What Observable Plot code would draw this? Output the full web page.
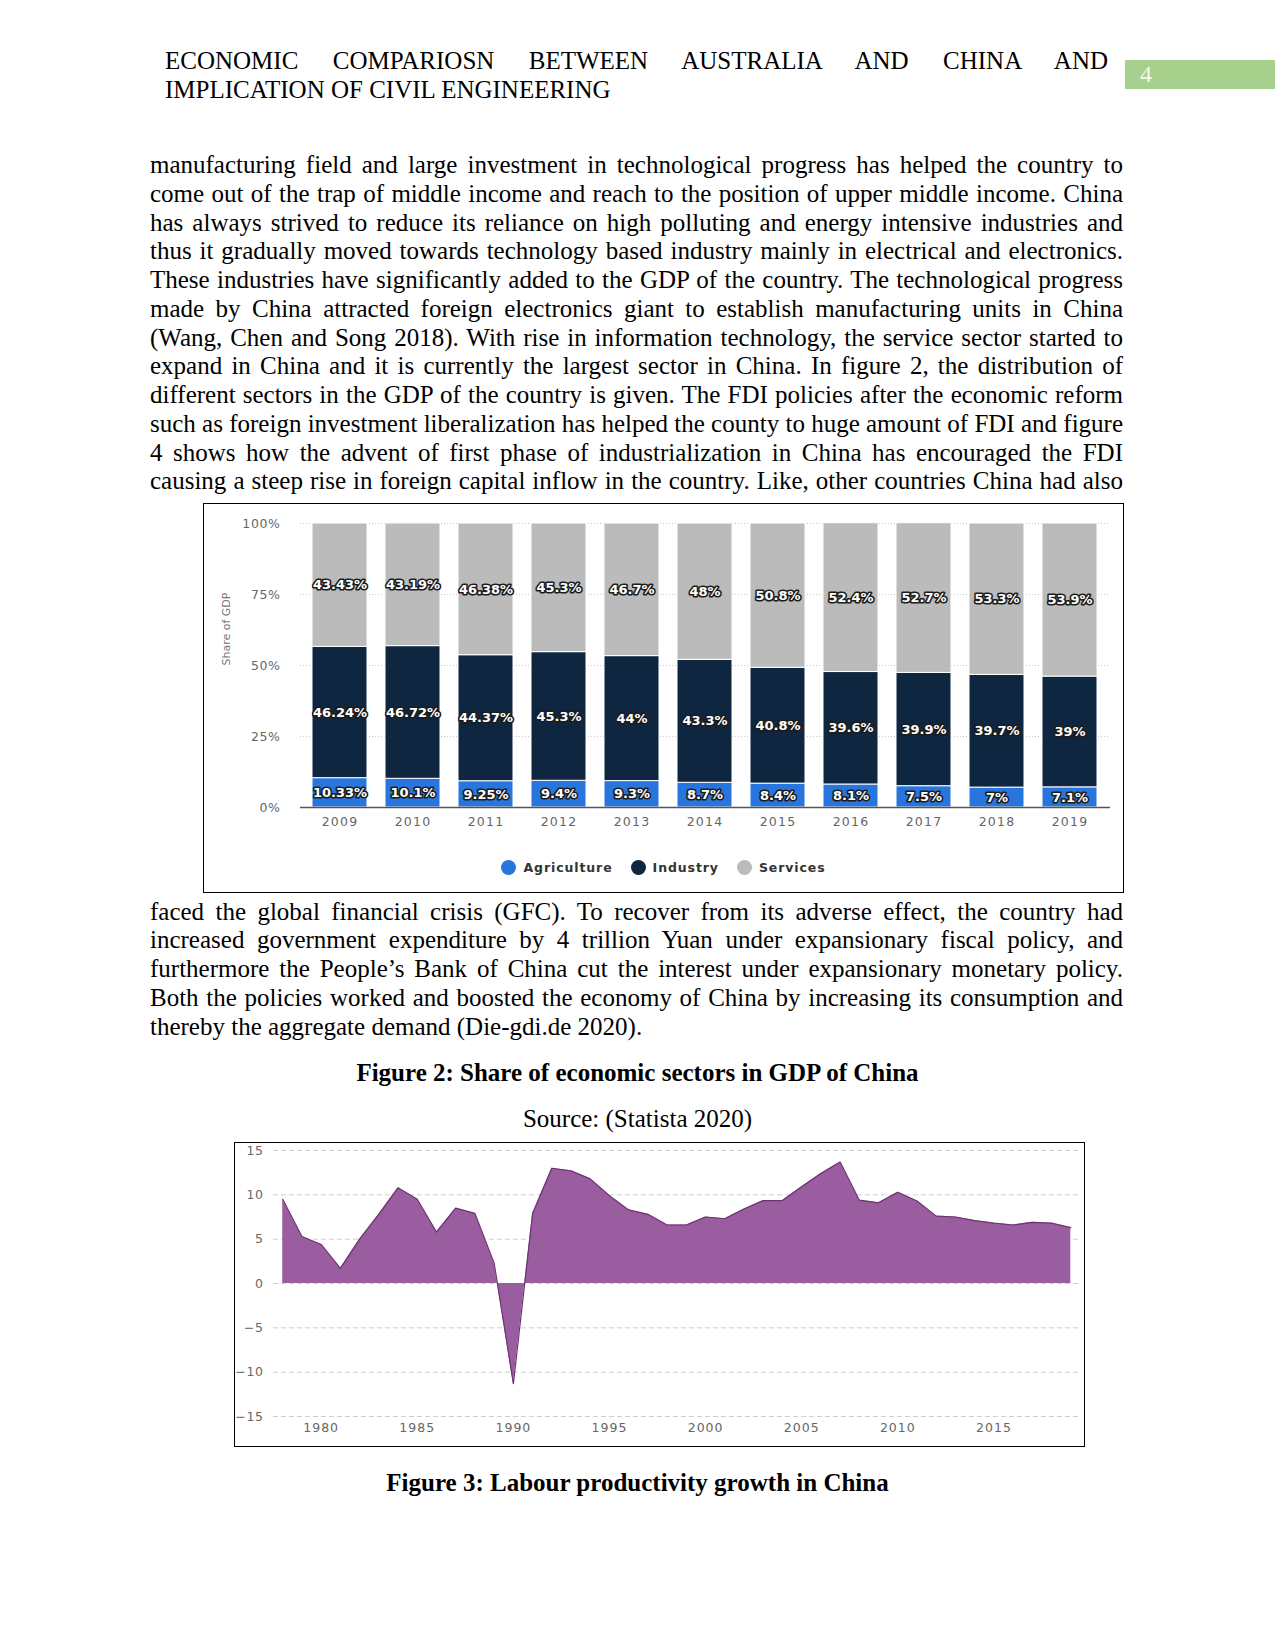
<!DOCTYPE html>
<html>
<head>
<meta charset="utf-8">
<script src="https://cdn.jsdelivr.net/npm/d3@7"></script>
<script src="https://cdn.jsdelivr.net/npm/@observablehq/plot@0.6"></script>
<style>
  html, body { margin: 0; padding: 0; background: #fff; }
  #page { position: relative; width: 1275px; height: 1651px; background: #fff; overflow: hidden;
          font-family: "Liberation Serif", "Times New Roman", serif; color: #000; }
  .ln { position: absolute; white-space: nowrap; font-size: 25px; line-height: 28.75px; }
  .hd { position: absolute; white-space: nowrap; font-size: 25px; line-height: 28.75px; }
  .cap { position: absolute; left: 0; width: 1275px; text-align: center; font-size: 25px; line-height: 28.75px; }
  .box { position: absolute; border: 1px solid #000; background: #fff; }
  #legend1 { position: absolute; left: 0; width: 100%; display: flex; justify-content: center; align-items: center;
             font-family: "DejaVu Sans", sans-serif; font-weight: bold; font-size: 12.5px; letter-spacing: 0.9px; color: #333; }
  #legend1 .it { display: flex; align-items: center; margin: 0 9px; }
  #legend1 .sw { width: 15px; height: 15px; border-radius: 50%; margin-right: 7px; }
  #c1 g[aria-label="x-axis tick label"] text { letter-spacing: 1.2px; }
  #c1 g[aria-label="y-axis tick label"] text { letter-spacing: 0.6px; }
  #c2 g[aria-label="x-axis tick label"] text { letter-spacing: 1px; }
  #c2 g[aria-label="y-axis tick label"] text { letter-spacing: 0.6px; }
</style>
</head>
<body>
<div id="page"></div>
<script>
// ---------- Text content ----------
const headerLines = [
  "ECONOMIC COMPARIOSN BETWEEN AUSTRALIA AND CHINA AND",
  "IMPLICATION OF CIVIL ENGINEERING"
];
const pageNumber = "4";
const para1 = [
  "manufacturing field and large investment in technological progress has helped the country to",
  "come out of the trap of middle income and reach to the position of upper middle income. China",
  "has always strived to reduce its reliance on high polluting and energy intensive industries and",
  "thus it gradually moved towards technology based industry mainly in electrical and electronics.",
  "These industries have significantly added to the GDP of the country. The technological progress",
  "made by China attracted foreign electronics giant to establish manufacturing units in China",
  "(Wang, Chen and Song 2018). With rise in information technology, the service sector started to",
  "expand in China and it is currently the largest sector in China. In figure 2, the distribution of",
  "different sectors in the GDP of the country is given. The FDI policies after the economic reform",
  "such as foreign investment liberalization has helped the county to huge amount of FDI and figure",
  "4 shows how the advent of first phase of industrialization in China has encouraged the FDI",
  "causing a steep rise in foreign capital inflow in the country. Like, other countries China had also"
];
const para2 = [
  "faced the global financial crisis (GFC). To recover from its adverse effect, the country had",
  "increased government expenditure by 4 trillion Yuan under expansionary fiscal policy, and",
  "furthermore the People\u2019s Bank of China cut the interest under expansionary monetary policy.",
  "Both the policies worked and boosted the economy of China by increasing its consumption and",
  "thereby the aggregate demand (Die-gdi.de 2020)."
];
const caption2 = "Figure 2: Share of economic sectors in GDP of China";
const source2 = "Source: (Statista 2020)";
const caption3 = "Figure 3: Labour productivity growth in China";

// ---------- Chart 1 data (Figure 2) ----------
const years1 = ["2009","2010","2011","2012","2013","2014","2015","2016","2017","2018","2019"];
const agriculture = [10.33, 10.1, 9.25, 9.4, 9.3, 8.7, 8.4, 8.1, 7.5, 7, 7.1];
const industry    = [46.24, 46.72, 44.37, 45.3, 44, 43.3, 40.8, 39.6, 39.9, 39.7, 39];
const services    = [43.43, 43.19, 46.38, 45.3, 46.7, 48, 50.8, 52.4, 52.7, 53.3, 53.9];
const sectors = ["Agriculture", "Industry", "Services"];
const yTicks1 = [0, 25, 50, 75, 100];
const yAxisLabel1 = "Share of GDP";

// ---------- Chart 2 data (Figure 3) ----------
const years2 = [1978,1979,1980,1981,1982,1983,1984,1985,1986,1987,1988,1989,1990,1991,1992,1993,1994,1995,1996,1997,1998,1999,
                2000,2001,2002,2003,2004,2005,2006,2007,2008,2009,2010,2011,2012,2013,2014,2015,2016,2017,2018,2019];
const growth = [9.5,5.3,4.4,1.7,5.0,7.8,10.8,9.5,5.8,8.5,7.9,2.3,-11.3,7.9,13.0,12.7,11.8,9.9,8.3,7.8,6.6,6.6,
                7.5,7.3,8.4,9.35,9.35,10.9,12.4,13.7,9.4,9.1,10.3,9.3,7.6,7.5,7.1,6.8,6.6,6.9,6.8,6.3];
const xTicks2 = [1980,1985,1990,1995,2000,2005,2010,2015];
const yTicks2 = [-15,-10,-5,0,5,10,15];

// ---------- Page layout ----------
const page = document.getElementById("page");
function el(tag, cls, style, text) {
  const e = document.createElement(tag);
  if (cls) e.className = cls;
  Object.assign(e.style, style || {});
  if (text != null) e.textContent = text;
  page.appendChild(e);
  return e;
}
function justify(e, width) {
  e.style.wordSpacing = "0px";
  const w = e.getBoundingClientRect().width;
  const n = (e.textContent.match(/ /g) || []).length;
  if (n > 0) e.style.wordSpacing = ((width - w) / n) + "px";
}

// header
const h1 = el("div", "hd", {left: "165px", top: "47px"}, headerLines[0]);
justify(h1, 943);
el("div", "hd", {left: "165px", top: "76px"}, headerLines[1]);
el("div", "", {position: "absolute", left: "1125px", top: "60px", width: "150px", height: "29px", background: "#a8d08d"});
el("div", "", {position: "absolute", left: "1140px", top: "60px", fontSize: "24px", lineHeight: "29px", color: "#f4f8f0"}, pageNumber);

// paragraph 1
para1.forEach((t, i) => {
  const e = el("div", "ln", {left: "150px", top: (151 + i * 28.75) + "px"}, t);
  justify(e, 973);
});
// paragraph 2
para2.forEach((t, i) => {
  const e = el("div", "ln", {left: "150px", top: (897.5 + i * 28.75) + "px"}, t);
  if (i < para2.length - 1) justify(e, 973);
});
// captions
el("div", "cap", {top: "1059px", fontWeight: "bold"}, caption2);
el("div", "cap", {top: "1104.5px"}, source2);
el("div", "cap", {top: "1468.5px", fontWeight: "bold"}, caption3);

// ---------- Chart 1 ----------
const box1 = el("div", "box", {left: "203px", top: "503px", width: "919px", height: "388px"});
box1.id = "c1";
const colors1 = ["#2876dd", "#0f2640", "#bbbbbb"];
const rows1 = [];
years1.forEach((y, i) => {
  rows1.push({year: y, sector: sectors[0], value: agriculture[i]});
  rows1.push({year: y, sector: sectors[1], value: industry[i]});
  rows1.push({year: y, sector: sectors[2], value: services[i]});
});
const chart1 = Plot.plot({
  width: 919, height: 340,
  marginTop: 19, marginBottom: 37, marginLeft: 96, marginRight: 13,
  style: {fontFamily: "DejaVu Sans, sans-serif", fontSize: "12.5px", color: "#666", background: "transparent"},
  x: {domain: years1, paddingInner: 0.24, paddingOuter: 0.12, label: null},
  y: {domain: [0, 100], label: null},
  color: {domain: sectors, range: colors1},
  marks: [
    Plot.gridY(yTicks1.filter(d => d > 0), {stroke: "#c8c8c8", strokeOpacity: 1, strokeDasharray: "1,2"}),
    Plot.barY(rows1, {x: "year", y: "value", fill: "sector", stroke: "#ffffff", strokeWidth: 1}),
    Plot.ruleY([0], {stroke: "#555", strokeWidth: 1.5}),
    Plot.text(rows1, Plot.stackY({x: "year", y: "value", text: d => d.value + "%",
      fill: "white", stroke: "#1c1c1c", strokeWidth: 3.2, fontWeight: "bold", fontSize: 13})),
    Plot.axisY({ticks: yTicks1, tickSize: 0, tickPadding: 20, tickFormat: d => d + "%", label: null, fill: "#666"}),
    Plot.axisX({tickSize: 0, tickPadding: 10, label: null, fill: "#666"}),
    Plot.text([yAxisLabel1], {frameAnchor: "left", dx: -74, dy: 0, rotate: -90, fill: "#777", fontSize: 11})
  ]
});
chart1.style.position = "absolute";
chart1.style.left = "0px";
chart1.style.top = "0px";
box1.appendChild(chart1);
const legend1 = document.createElement("div");
legend1.id = "legend1";
legend1.style.top = "354px";
legend1.style.height = "18px";
sectors.forEach((s, i) => {
  const it = document.createElement("div");
  it.className = "it";
  const sw = document.createElement("div");
  sw.className = "sw";
  sw.style.background = colors1[i];
  const tx = document.createElement("span");
  tx.textContent = s;
  it.appendChild(sw); it.appendChild(tx);
  legend1.appendChild(it);
});
box1.appendChild(legend1);

// ---------- Chart 2 ----------
const box2 = el("div", "box", {left: "234px", top: "1142px", width: "849px", height: "303px"});
box2.id = "c2";
const rows2 = years2.map((y, i) => ({year: y, value: growth[i]}));
const chart2 = Plot.plot({
  width: 849, height: 303,
  marginTop: 7, marginBottom: 30, marginLeft: 38, marginRight: 6,
  style: {fontFamily: "DejaVu Sans, sans-serif", fontSize: "12.5px", color: "#666", background: "transparent"},
  x: {domain: [1977.52, 2019.4], label: null},
  y: {domain: [-15, 15], label: null},
  marks: [
    Plot.gridY(yTicks2, {stroke: "#cfcfcf", strokeOpacity: 1, strokeDasharray: "5,3"}),
    Plot.areaY(rows2, {x: "year", y: "value", fill: "#9a5ea0"}),
    Plot.lineY(rows2, {x: "year", y: "value", stroke: "#6d3472", strokeWidth: 1.2}),
    Plot.axisY({ticks: yTicks2, tickSize: 0, tickPadding: 10, label: null, fill: "#666"}),
    Plot.axisX({ticks: xTicks2, tickSize: 0, tickPadding: 7, tickFormat: d => String(d), label: null, fill: "#666"})
  ]
});
chart2.style.position = "absolute";
chart2.style.left = "0px";
chart2.style.top = "0px";
box2.appendChild(chart2);
</script>
</body>
</html>
